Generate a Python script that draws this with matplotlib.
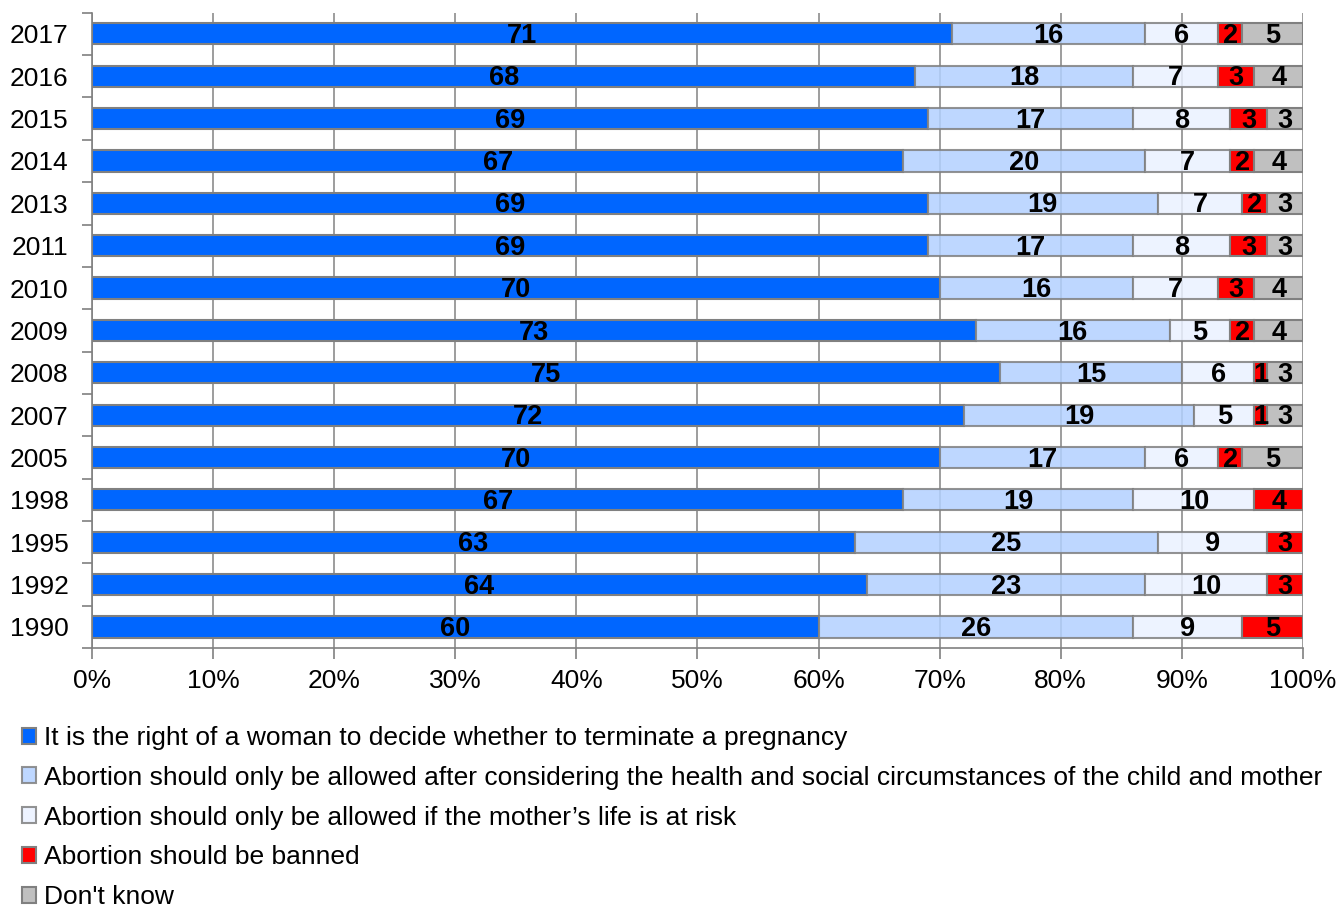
import numpy as np
import matplotlib
matplotlib.use('Agg')
import matplotlib.pyplot as plt

plt.rcParams['font.family'] = ['Liberation Sans', 'DejaVu Sans']

# survey years, top row first
years = ['2017', '2016', '2015', '2014', '2013', '2011', '2010', '2009',
         '2008', '2007', '2005', '1998', '1995', '1992', '1990']

right_to_decide = [71, 68, 69, 67, 69, 69, 70, 73, 75, 72, 70, 67, 63, 64, 60]
after_considering = [16, 18, 17, 20, 19, 17, 16, 16, 15, 19, 17, 19, 25, 23, 26]
life_at_risk = [6, 7, 8, 7, 7, 8, 7, 5, 6, 5, 6, 10, 9, 10, 9]
banned = [2, 3, 3, 2, 2, 3, 3, 2, 1, 1, 2, 4, 3, 3, 5]
dont_know = [5, 4, 3, 4, 3, 3, 4, 4, 3, 3, 5, 0, 0, 0, 0]

series_names = [
    'It is the right of a woman to decide whether to terminate a pregnancy',
    'Abortion should only be allowed after considering the health and social circumstances of the child and mother',
    'Abortion should only be allowed if the mother\u2019s life is at risk',
    'Abortion should be banned',
    "Don't know",
]
colors = ['#0066FF', '#B3D1FF', '#EAF1FF', '#FF0000', '#C0C0C0']

series = [right_to_decide, after_considering, life_at_risk, banned, dont_know]

fig = plt.figure(figsize=(13.41, 9.09), dpi=100)
ax = fig.add_axes([0.0686, 0.287, 0.903, 0.699])

y = np.arange(len(years))
left = np.zeros(len(years))
for vals, col, name in zip(series, colors, series_names):
    vals = np.array(vals, dtype=float)
    alpha = 0.85 if col in ('#B3D1FF', '#EAF1FF') else 1.0
    ax.barh(y, vals, left=left, height=0.5, color=col, edgecolor='#808080',
            linewidth=1.5, label=name, zorder=3, alpha=alpha)
    for yi, (l, v) in enumerate(zip(left, vals)):
        if v > 0:
            ax.text(l + v / 2, yi + 0.05, '%d' % v, ha='center', va='center',
                    fontsize=19.5, fontweight='bold', color='black', zorder=5)
    left += vals

ax.set_xlim(0, 100)
ax.set_ylim(len(years) - 0.5, -0.5)
ax.set_xticks(np.arange(0, 101, 10))
ax.set_xticklabels(['%d%%' % v for v in range(0, 101, 10)], fontsize=19)
ax.set_yticks(y)
ax.set_yticklabels(years, fontsize=19)
ax.set_yticks(np.arange(-0.5, len(years), 1), minor=True)
ax.tick_params(axis='y', which='major', length=0, pad=17)
ax.tick_params(axis='y', which='minor', length=7, color='#808080', width=1.2)
ax.tick_params(axis='x', length=8, color='#808080', width=1.2, pad=7)

ax.grid(axis='x', color='#8C8C8C', linewidth=1.2, zorder=0)
ax.set_axisbelow(True)
for s in ['top', 'right']:
    ax.spines[s].set_visible(False)
for s in ['left', 'bottom']:
    ax.spines[s].set_color('#808080')
    ax.spines[s].set_linewidth(1.2)

handles, labels = ax.get_legend_handles_labels()
fig.legend(handles, labels, loc='upper left', bbox_to_anchor=(0.0083, 0.213),
           frameon=False, fontsize=19, handlelength=0.55, handleheight=0.55,
           handletextpad=0.3, labelspacing=0.6, borderaxespad=0)

plt.savefig('out.png', dpi=100)
